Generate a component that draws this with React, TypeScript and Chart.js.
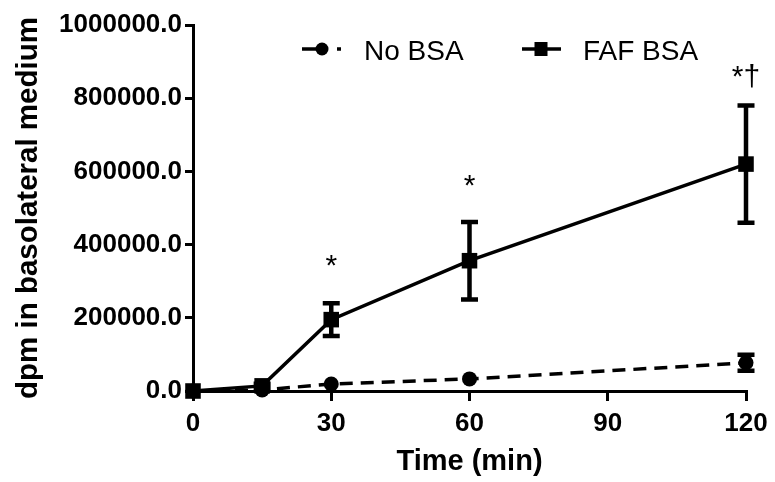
import React, { useEffect, useRef } from "react";
import { Chart, registerables } from "chart.js";

Chart.register(...registerables);

const times = [0, 15, 30, 60, 120];
const noBsaLabel = "No BSA";
const fafBsaLabel = "FAF BSA";
const noBsaValues = [0, 3000, 19000, 33000, 77000];
const noBsaErrors = [0, 0, 0, 0, 22000];
const fafBsaValues = [0, 14000, 195000, 356000, 620000];
const fafBsaErrors = [0, 6000, 45000, 106000, 160000];

const xTicks = [0, 30, 60, 90, 120];
const yTicks = [0, 200000, 400000, 600000, 800000, 1000000];

const annotTimes = [30, 60, 120];
const annotValues = [318000, 536000, 832000];
const annotLabels = ["*", "*", "*\u2020"];

const xTitle = "Time (min)";
const yTitle = "dpm in basolateral medium";

const FONT = "'Liberation Sans', Arial, Helvetica, sans-serif";

const errorBarPlugin = {
  id: "errorBars",
  afterDatasetsDraw(chart: any) {
    const ctx = chart.ctx;
    const xs = chart.scales.x;
    const ys = chart.scales.y;
    const sets = [
      { v: fafBsaValues, e: fafBsaErrors },
      { v: noBsaValues, e: noBsaErrors },
    ];
    ctx.save();
    ctx.strokeStyle = "#000";
    ctx.lineWidth = 4.5;
    ctx.lineCap = "butt";
    sets.forEach((s) => {
      s.v.forEach((val, i) => {
        const err = s.e[i];
        if (!err) return;
        const px = xs.getPixelForValue(times[i]);
        const top = ys.getPixelForValue(val + err);
        const bot = ys.getPixelForValue(val - err);
        ctx.beginPath();
        ctx.moveTo(px, top);
        ctx.lineTo(px, bot);
        ctx.moveTo(px - 8.5, top);
        ctx.lineTo(px + 8.5, top);
        ctx.moveTo(px - 8.5, bot);
        ctx.lineTo(px + 8.5, bot);
        ctx.stroke();
      });
    });
    ctx.fillStyle = "#000";
    ctx.font = `30px ${FONT}`;
    ctx.textAlign = "center";
    ctx.textBaseline = "alphabetic";
    annotTimes.forEach((t, i) => {
      const px = xs.getPixelForValue(t);
      const py = ys.getPixelForValue(annotValues[i]);
      ctx.fillText(annotLabels[i], px, py);
    });
    ctx.restore();
  },
};

const legendPlugin = {
  id: "customLegend",
  afterDraw(chart: any) {
    const ctx = chart.ctx;
    const ly = 49;
    ctx.save();
    ctx.strokeStyle = "#000";
    ctx.fillStyle = "#000";
    ctx.lineWidth = 3.5;
    ctx.beginPath();
    ctx.moveTo(302, ly);
    ctx.lineTo(316, ly);
    ctx.moveTo(337, ly);
    ctx.lineTo(341, ly);
    ctx.stroke();
    ctx.beginPath();
    ctx.arc(322, ly, 6.5, 0, Math.PI * 2);
    ctx.fill();
    ctx.beginPath();
    ctx.moveTo(522, ly);
    ctx.lineTo(561, ly);
    ctx.stroke();
    ctx.fillRect(541 - 6.5, ly - 7, 13, 14);
    ctx.font = `28px ${FONT}`;
    ctx.textAlign = "left";
    ctx.textBaseline = "alphabetic";
    ctx.fillText(noBsaLabel, 364, 60);
    ctx.fillText(fafBsaLabel, 583, 60);
    ctx.restore();
  },
};

export default function App() {
  const ref = useRef<HTMLCanvasElement | null>(null);
  useEffect(() => {
    document.body.style.margin = "0";
    if (!ref.current) return;
    const chart = new Chart(ref.current, {
      type: "line",
      data: {
        datasets: [
          {
            label: fafBsaLabel,
            data: times.map((t, i) => ({ x: t, y: fafBsaValues[i] })),
            borderColor: "#000",
            backgroundColor: "#000",
            borderWidth: 3.5,
            pointStyle: "rect",
            pointRadius: 11,
            pointHoverRadius: 11,
            pointBorderWidth: 0,
            tension: 0,
            clip: false as any,
            order: 0,
          },
          {
            label: noBsaLabel,
            data: times.map((t, i) => ({ x: t, y: noBsaValues[i] })),
            borderColor: "#000",
            backgroundColor: "#000",
            borderWidth: 3.5,
            borderDash: [13, 8],
            pointStyle: "circle",
            pointRadius: 7.5,
            pointHoverRadius: 7.5,
            pointBorderWidth: 0,
            tension: 0,
            clip: false as any,
            order: 1,
          },
        ],
      },
      options: {
        animation: false,
        responsive: true,
        maintainAspectRatio: false,
        devicePixelRatio: 1,
        layout: { padding: { top: 25, right: 29, left: 0, bottom: 0 } },
        plugins: {
          legend: { display: false },
          tooltip: { enabled: false },
        },
        scales: {
          x: {
            type: "linear",
            min: 0,
            max: 120,
            afterBuildTicks: (s: any) => {
              s.ticks = xTicks.map((v) => ({ value: v }));
            },
            afterFit: (s: any) => {
              s.height = 91;
            },
            ticks: {
              color: "#000",
              font: { family: FONT, size: 26, weight: "bold" },
              padding: 7,
              maxRotation: 0,
            },
            grid: {
              display: true,
              drawOnChartArea: false,
              drawTicks: true,
              tickLength: 10,
              color: "#000",
              lineWidth: 3,
            },
            border: { display: true, color: "#000", width: 3 },
            title: {
              display: true,
              text: xTitle,
              color: "#000",
              font: { family: FONT, size: 29, weight: "bold" },
              padding: { top: 3, bottom: 3 },
            },
          },
          y: {
            type: "linear",
            min: 0,
            max: 1000000,
            afterBuildTicks: (s: any) => {
              s.ticks = yTicks.map((v) => ({ value: v }));
            },
            afterFit: (s: any) => {
              s.width = 193;
            },
            ticks: {
              color: "#000",
              font: { family: FONT, size: 26, weight: "bold" },
              padding: 3,
              callback: (v: any) => Number(v).toFixed(1),
            },
            grid: {
              display: true,
              drawOnChartArea: false,
              drawTicks: true,
              tickLength: 8,
              color: "#000",
              lineWidth: 3,
            },
            border: { display: true, color: "#000", width: 3 },
            title: {
              display: true,
              text: yTitle,
              color: "#000",
              font: { family: FONT, size: 29.5, weight: "bold" },
              padding: { top: 11, bottom: 0 },
            },
          },
        },
      },
      plugins: [errorBarPlugin, legendPlugin],
    });
    return () => chart.destroy();
  }, []);
  return (
    <div style={{ width: 775, height: 482, position: "relative" }}>
      <canvas ref={ref} />
    </div>
  );
}
